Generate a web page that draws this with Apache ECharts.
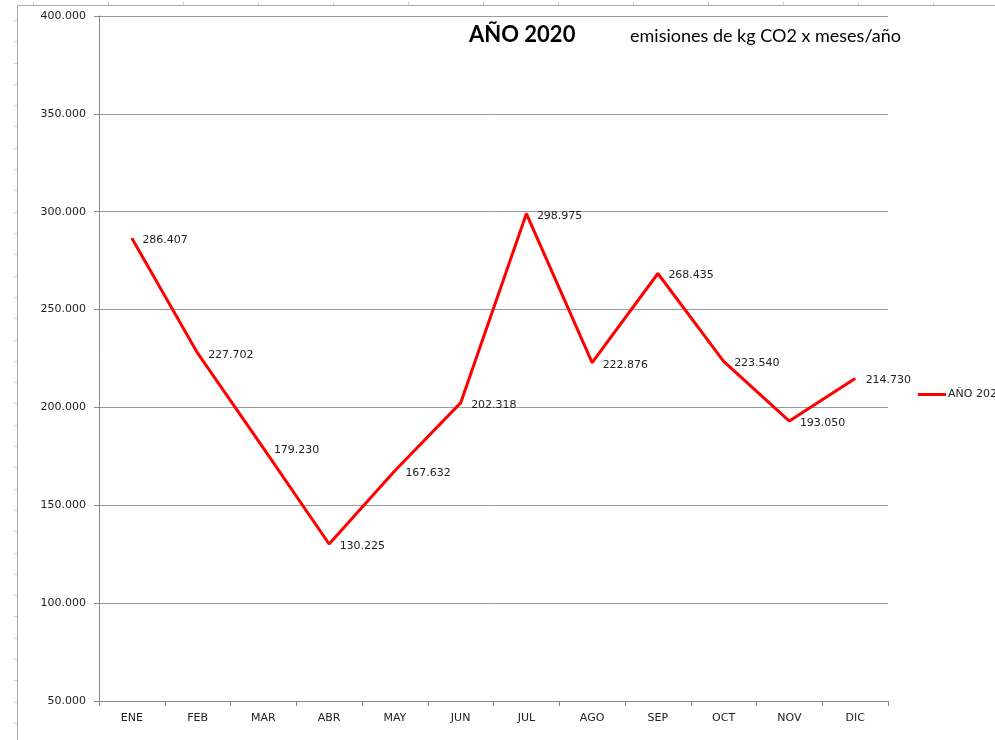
<!DOCTYPE html>
<html>
<head>
<meta charset="utf-8">
<script src="https://cdn.jsdelivr.net/npm/echarts@6/dist/echarts.min.js"></script>
<style>
html,body{margin:0;padding:0;background:#fff;}
#c{width:995px;height:740px;}
</style>
</head>
<body>
<div id="c"></div>
<script>
const categories = ['ENE','FEB','MAR','ABR','MAY','JUN','JUL','AGO','SEP','OCT','NOV','DIC'];
const values2020 = [286407, 227702, 179230, 130225, 167632, 202318, 298975, 222876, 268435, 223540, 193050, 214730];
const seriesName = 'AÑO 2020';
const titleText = 'AÑO 2020';
const subtitleText = 'emisiones de kg CO2 x meses/año';

function fmt(v){
  return String(Math.round(v)).replace(/\B(?=(\d{3})+(?!\d))/g, '.');
}

const frame = [];
frame.push({type:'line', shape:{x1:17.5,y1:5.5,x2:995,y2:5.5}, style:{stroke:'#aaa',lineWidth:1}, silent:true});
frame.push({type:'line', shape:{x1:17.5,y1:5.5,x2:17.5,y2:740}, style:{stroke:'#aaa',lineWidth:1}, silent:true});
for (let x = 33; x < 995; x += 75) {
  frame.push({type:'line', shape:{x1:x+0.5,y1:2,x2:x+0.5,y2:5}, style:{stroke:'#ccc',lineWidth:1}, silent:true});
}
for (let y = 20; y < 740; y += 21.3) {
  frame.push({type:'line', shape:{x1:14,y1:Math.round(y)+0.5,x2:17,y2:Math.round(y)+0.5}, style:{stroke:'#ccc',lineWidth:1}, silent:true});
}

const chart = echarts.init(document.getElementById('c'), null, {renderer:'canvas'});
chart.setOption({
  animation:false,
  backgroundColor:'#fff',
  title:[
    {text:titleText, left:464, top:19, textStyle:{fontFamily:'Lato', fontWeight:'bold', fontSize:22, color:'#000'}},
    {text:subtitleText, left:625, top:22, textStyle:{fontFamily:'Lato', fontWeight:'normal', fontSize:18, color:'#000'}}
  ],
  graphic: frame,
  legend:{
    data:[seriesName], left:918, top:389, padding:0, itemWidth:28, itemHeight:3, itemGap:2,
    icon:'rect',
    textStyle:{fontFamily:'DejaVu Sans', fontSize:11, color:'#222', padding:[0,0,0,-3]}
  },
  grid:{left:99, right:107, top:16, bottom:39, containLabel:false},
  xAxis:{
    type:'category', data:categories, boundaryGap:true,
    axisLine:{lineStyle:{color:'#888', width:1}},
    axisTick:{show:true, length:5, lineStyle:{color:'#888'}},
    axisLabel:{fontFamily:'DejaVu Sans', fontSize:11, color:'#222', margin:12}
  },
  yAxis:{
    type:'value', min:50000, max:400000, interval:50000,
    axisLine:{show:true, lineStyle:{color:'#888', width:1}},
    axisTick:{show:true, length:5, lineStyle:{color:'#888'}},
    splitLine:{show:true, lineStyle:{color:'#999', width:1}},
    axisLabel:{fontFamily:'DejaVu Sans', fontSize:11, color:'#222', margin:13, formatter:fmt}
  },
  series:[{
    name:seriesName, type:'line', data:values2020,
    showSymbol:true, symbol:'circle', symbolSize:1,
    lineStyle:{color:'#ff0000', width:3},
    itemStyle:{color:'#ff0000'},
    label:{show:true, position:'right', distance:10, offset:[0,2], fontFamily:'DejaVu Sans', fontSize:11, color:'#222', formatter:p=>fmt(p.value)}
  }]
});
</script>
</body>
</html>
